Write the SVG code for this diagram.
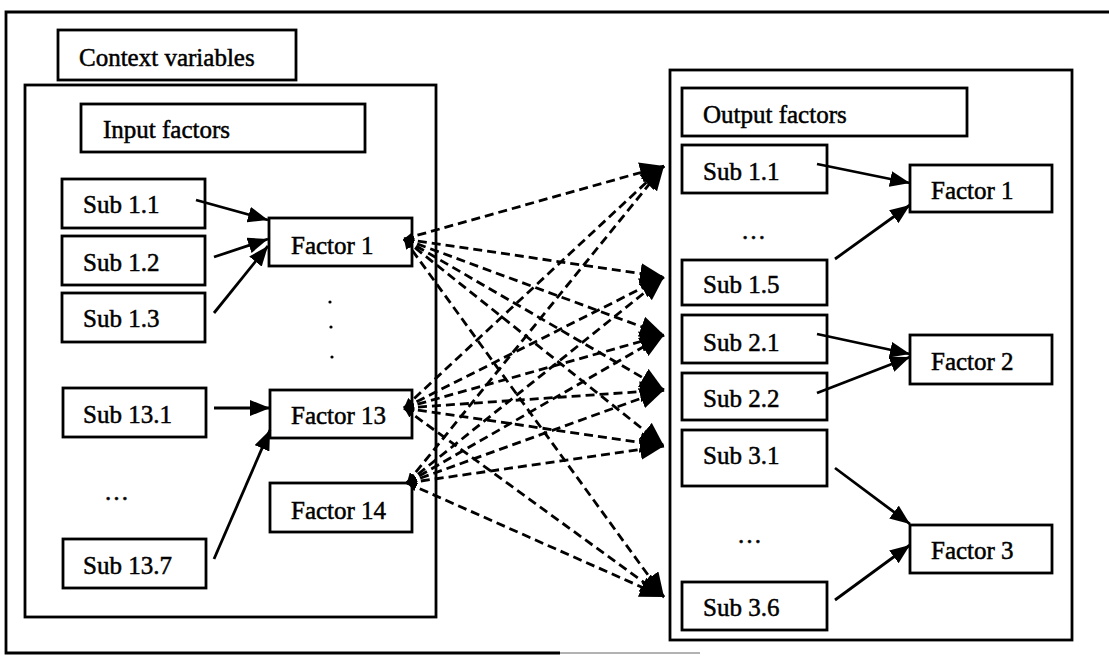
<svg xmlns="http://www.w3.org/2000/svg" width="1109" height="657" viewBox="0 0 1109 657">
<style>
  .box{fill:none;stroke:#000;stroke-width:2.8}
  .t{font-family:"Liberation Serif","Times New Roman",serif;font-size:25px;fill:#000;stroke:#000;stroke-width:0.5}
  .solid{stroke:#000;stroke-width:2.8;fill:none;marker-end:url(#ah)}
  .dash{stroke:#000;stroke-width:2.8;fill:none;stroke-dasharray:9 5;marker-end:url(#big);marker-start:url(#small)}
</style>
<defs>
  <marker id="ah" markerUnits="userSpaceOnUse" markerWidth="20" markerHeight="16" viewBox="0 0 20 16" refX="20" refY="8" orient="auto">
    <path d="M0,0 L20,8 L0,16 z" fill="#000"/>
  </marker>
  <marker id="big" markerUnits="userSpaceOnUse" markerWidth="24" markerHeight="21" viewBox="0 0 24 21" refX="24" refY="10.5" orient="auto">
    <path d="M0,0 L24,10.5 L0,21 z" fill="#000"/>
  </marker>
  <marker id="small" markerUnits="userSpaceOnUse" markerWidth="10" markerHeight="9" viewBox="0 0 10 9" refX="10" refY="4.5" orient="auto-start-reverse">
    <path d="M0,0 L10,4.5 L0,9 z" fill="#000"/>
  </marker>
</defs>
<rect width="1109" height="657" fill="#fff"/>
<g id="frame">
  <path d="M1109,12 L6,12 L6,653 L560,653" fill="none" stroke="#000" stroke-width="2.8"/>
  <path d="M560,653 L700,653" fill="none" stroke="#999" stroke-width="1.5"/>
</g>
<g id="context">
  <rect class="box" x="58" y="30" width="238" height="50"/>
  <text class="t" x="79" y="66">Context variables</text>
</g>
<g id="input-container">
  <rect class="box" x="25" y="85" width="411" height="532"/>
</g>
<g id="input-factors">
  <rect class="box" x="81" y="104" width="284" height="48"/>
  <text class="t" x="103" y="138">Input factors</text>
</g>
<g id="in-sub-1-1"><rect class="box" x="62" y="179" width="143" height="49"/><text class="t" x="83" y="213">Sub 1.1</text></g>
<g id="in-sub-1-2"><rect class="box" x="62" y="236" width="143" height="49"/><text class="t" x="83" y="271">Sub 1.2</text></g>
<g id="in-sub-1-3"><rect class="box" x="62" y="293" width="143" height="49"/><text class="t" x="83" y="327">Sub 1.3</text></g>
<g id="in-sub-13-1"><rect class="box" x="63" y="388" width="143" height="49"/><text class="t" x="83" y="423">Sub 13.1</text></g>
<g id="in-ellipsis"><text class="t" x="104" y="500">…</text></g>
<g id="in-sub-13-7"><rect class="box" x="63" y="539" width="143" height="49"/><text class="t" x="83" y="574">Sub 13.7</text></g>
<g id="in-factor-1"><rect class="box" x="269" y="218" width="143" height="48"/><text class="t" x="291" y="254">Factor 1</text></g>
<g id="in-vdots">
  <circle cx="330" cy="302" r="1.6" fill="#000"/>
  <circle cx="331" cy="327" r="1.6" fill="#000"/>
  <circle cx="332" cy="357" r="1.6" fill="#000"/>
</g>
<g id="in-factor-13"><rect class="box" x="270" y="390" width="142" height="48"/><text class="t" x="291" y="424">Factor 13</text></g>
<g id="in-factor-14"><rect class="box" x="270" y="483" width="142" height="49"/><text class="t" x="291" y="519">Factor 14</text></g>

<g id="output-container">
  <rect class="box" x="670" y="70" width="402" height="570"/>
</g>
<g id="output-factors">
  <rect class="box" x="682" y="88" width="285" height="48"/>
  <text class="t" x="703" y="123">Output factors</text>
</g>
<g id="out-sub-1-1"><rect class="box" x="682" y="145" width="145" height="48"/><text class="t" x="703" y="180">Sub 1.1</text></g>
<g id="out-ellipsis-1"><text class="t" x="741" y="239">…</text></g>
<g id="out-sub-1-5"><rect class="box" x="682" y="260" width="145" height="45"/><text class="t" x="703" y="293">Sub 1.5</text></g>
<g id="out-sub-2-1"><rect class="box" x="682" y="315" width="145" height="48"/><text class="t" x="703" y="351">Sub 2.1</text></g>
<g id="out-sub-2-2"><rect class="box" x="682" y="373" width="145" height="47"/><text class="t" x="703" y="407">Sub 2.2</text></g>
<g id="out-sub-3-1"><rect class="box" x="682" y="430" width="145" height="56"/><text class="t" x="703" y="464">Sub 3.1</text></g>
<g id="out-ellipsis-2"><text class="t" x="737" y="543">…</text></g>
<g id="out-sub-3-6"><rect class="box" x="682" y="582" width="145" height="48"/><text class="t" x="703" y="616">Sub 3.6</text></g>
<g id="out-factor-1"><rect class="box" x="910" y="165" width="142" height="47"/><text class="t" x="931" y="199">Factor 1</text></g>
<g id="out-factor-2"><rect class="box" x="910" y="335" width="142" height="49"/><text class="t" x="931" y="370">Factor 2</text></g>
<g id="out-factor-3"><rect class="box" x="910" y="525" width="142" height="48"/><text class="t" x="931" y="559">Factor 3</text></g>

<g id="connectors">
  <line class="solid" x1="196" y1="200" x2="268" y2="220"/>
  <line class="solid" x1="214" y1="257" x2="268" y2="239"/>
  <line class="solid" x1="214" y1="313" x2="268" y2="246"/>
  <line class="solid" x1="214" y1="408" x2="270" y2="408"/>
  <line class="solid" x1="214" y1="559" x2="270" y2="430"/>

  <line class="solid" x1="817" y1="164" x2="910" y2="183"/>
  <line class="solid" x1="835" y1="259" x2="910" y2="205"/>
  <line class="solid" x1="817" y1="334" x2="910" y2="354"/>
  <line class="solid" x1="817" y1="393" x2="910" y2="357"/>
  <line class="solid" x1="835" y1="468" x2="910" y2="524"/>
  <line class="solid" x1="835" y1="600" x2="910" y2="545"/>

  <line class="dash" x1="404" y1="239" x2="664" y2="166"/>
  <line class="dash" x1="404" y1="239" x2="664" y2="277"/>
  <line class="dash" x1="404" y1="239" x2="664" y2="335"/>
  <line class="dash" x1="404" y1="239" x2="664" y2="390"/>
  <line class="dash" x1="404" y1="239" x2="664" y2="446"/>
  <line class="dash" x1="404" y1="239" x2="664" y2="597"/>

  <line class="dash" x1="404" y1="408" x2="664" y2="166"/>
  <line class="dash" x1="404" y1="408" x2="664" y2="277"/>
  <line class="dash" x1="404" y1="408" x2="664" y2="335"/>
  <line class="dash" x1="404" y1="408" x2="664" y2="390"/>
  <line class="dash" x1="404" y1="408" x2="664" y2="446"/>
  <line class="dash" x1="404" y1="408" x2="664" y2="597"/>

  <line class="dash" x1="407" y1="483" x2="664" y2="166"/>
  <line class="dash" x1="407" y1="483" x2="664" y2="277"/>
  <line class="dash" x1="407" y1="483" x2="664" y2="335"/>
  <line class="dash" x1="407" y1="483" x2="664" y2="390"/>
  <line class="dash" x1="407" y1="483" x2="664" y2="446"/>
  <line class="dash" x1="407" y1="483" x2="664" y2="597"/>
</g>
</svg>
